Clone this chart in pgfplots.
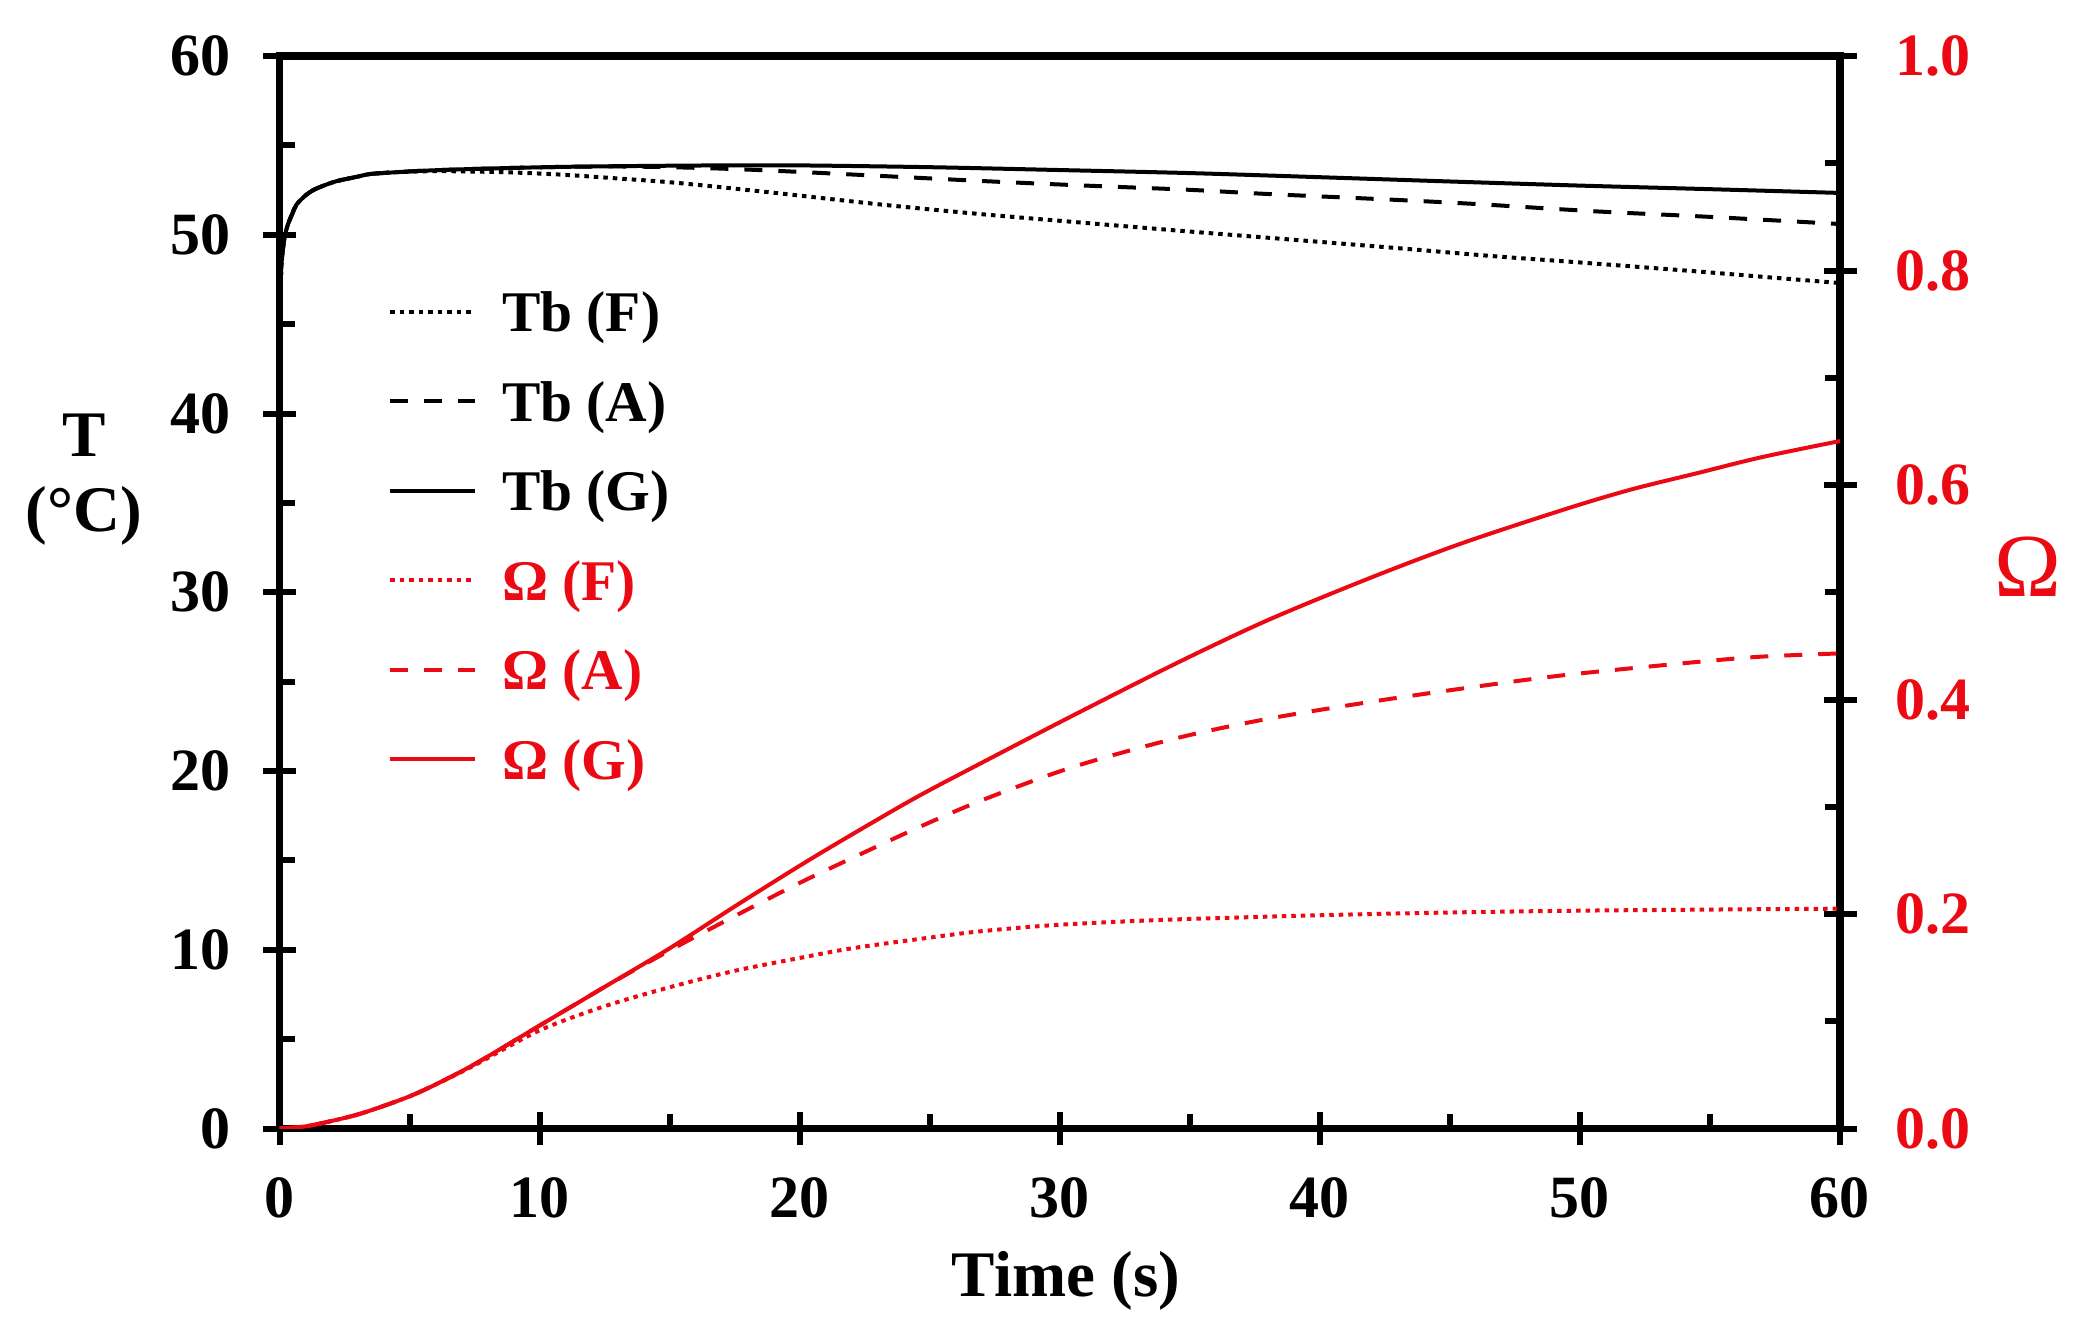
\documentclass[border=0pt]{standalone}
\usepackage{fontspec}
\setmainfont{Liberation Serif}
\usepackage{pgfplots}
\pgfplotsset{compat=1.18}
\definecolor{ored}{RGB}{235,10,20}
\tikzset{
  dotsty/.style={line width=0.8pt, dash pattern=on 0.9pt off 1.0pt},
  dashsty/.style={line width=0.8pt, dash pattern=on 3.6pt off 3.2pt},
  solsty/.style={line width=0.8pt},
}
\begin{document}
\begin{tikzpicture}
\useasboundingbox (-55.9pt,-39.9pt) rectangle (360.9pt,225.7pt);
\pgfplotsset{
  every axis/.append style={
    scale only axis, width=312.1pt, height=214.5pt, xmin=0, xmax=60,
    axis line style={line width=1.5pt, line cap=rect},
    tick style={line width=1.2pt, black},
    tick align=center, major tick length=6.6pt,
    /pgf/number format/assume math mode=true,
    tick label style={font=\fontsize{12}{14}\selectfont\bfseries},
    no marks,
  },
}
\begin{axis}[
  ymin=0, ymax=60,
  axis x line*=bottom, axis y line*=left,
  xtick={0,10,...,60}, ytick={0,10,...,60},
  extra x ticks={5,15,25,35,45,55}, extra x tick labels={},
  extra y ticks={5,15,25,35,45,55}, extra y tick labels={},
  extra tick style={tick align=inside, major tick length=3pt},
  xticklabel style={yshift=-2.9pt},
  yticklabel style={xshift=-3pt},
  xlabel={Time (s)},
  xlabel style={at={(axis description cs:0.504,-0.1566)}, anchor=base, font=\fontsize{13}{15}\selectfont\bfseries},
  ylabel={T\\(°C)},
  ylabel style={rotate=-90, align=center, at={(axis description cs:-0.1253,0.605)}, anchor=center, font=\fontsize{13}{15}\selectfont\bfseries},
]
% Tb (G)
\addplot[black, solsty, smooth] table {
0 45.0
0.05 47.5
0.1 48.8
0.2 49.9
0.33 50.6
0.5 51.2
0.66 51.7
1.0 52.2
1.3 52.5
1.7 52.75
2.2 53.0
3.0 53.25
3.5 53.4
4.5 53.5
5.5 53.58
7 53.66
9 53.74
11 53.8
14 53.85
17 53.88
20 53.88
25 53.78
30 53.62
35 53.45
40 53.22
45 52.98
50 52.75
55 52.55
60 52.34
};
% Tb (A)
\addplot[black, dashsty, smooth] table {
0 45.0
0.05 47.5
0.1 48.8
0.2 49.9
0.33 50.6
0.5 51.2
0.66 51.7
1.0 52.2
1.3 52.5
1.7 52.75
2.2 53.0
3.0 53.25
3.5 53.4
4.5 53.5
5.5 53.58
7 53.66
9 53.74
11 53.8
13 53.82
15 53.78
17 53.7
19.2 53.57
23 53.3
27.1 53.0
31 52.75
34.9 52.52
38 52.28
42.8 51.96
46 51.72
50.6 51.31
55 51.0
60 50.6
};
% Tb (F)
\addplot[black, dotsty, smooth] table {
0 45.0
0.05 47.5
0.1 48.8
0.2 49.9
0.33 50.6
0.5 51.2
0.66 51.7
1.0 52.2
1.3 52.5
1.7 52.75
2.2 53.0
3.0 53.25
3.5 53.4
4.5 53.5
6 53.56
8 53.52
9.4 53.46
11 53.35
13 53.15
15.3 52.9
19 52.35
23.2 51.68
27 51.15
31 50.66
35 50.18
38.9 49.73
43 49.25
46.7 48.8
50 48.45
54.5 47.95
57 47.65
60 47.3
};
\end{axis}
\begin{axis}[
  ymin=0, ymax=1,
  axis x line*=top, axis y line*=right,
  xtick=\empty,
  ytick={0,0.2,0.4,0.6,0.8,1.0},
  yticklabel={\pgfmathprintnumber[fixed,fixed zerofill,precision=1]{\tick}},
  yticklabel style={xshift=4.3pt, text=ored},
  extra y ticks={0.1,0.3,0.5,0.7,0.9}, extra y tick labels={},
  extra tick style={tick align=inside, major tick length=3pt},
  ylabel={Ω},
  ylabel style={rotate=-90, at={(axis description cs:1.1202,0.5235)}, anchor=center, font=\fontsize{18}{20}\selectfont, text=ored},
  legend style={draw=none, fill=none, at={(axis description cs:0.0696,0.780)}, anchor=north west,
    inner sep=0pt, outer sep=0pt, row sep=9.9pt, column sep=5pt,
    nodes={inner sep=0pt, text height=8pt, text depth=0pt},
    font=\fontsize{11.5}{13}\selectfont\bfseries},
  legend cell align=left,
  legend image code/.code={\draw[#1] (0pt,0pt) -- (17pt,0pt);},
]
\addlegendimage{black, dotsty}
\addlegendentry{Tb (F)}
\addlegendimage{black, dashsty}
\addlegendentry{Tb (A)}
\addlegendimage{black, solsty}
\addlegendentry{Tb (G)}
% Omega (F)
\addplot[ored, dotsty, smooth] table {
0 0
1 0.002
2 0.007
3 0.013
4 0.021
5 0.030
6 0.041
7.5 0.059
10 0.0915
12.5 0.114
15 0.1317
17.5 0.147
20 0.159
22 0.168
25 0.178
27 0.184
30 0.190
34.5 0.195
42 0.200
49.5 0.203
60 0.205
};
\addlegendentry{\textcolor{ored}{Ω (F)}}
% Omega (A)
\addplot[ored, dashsty, smooth] table {
0 0
1 0.002
2 0.007
3 0.013
4 0.021
5 0.030
6 0.041
7.5 0.060
10 0.096
12.5 0.132
15 0.166
17.5 0.198
20 0.229
22 0.252
24.5 0.280
27 0.306
30.5 0.337
34.5 0.364
38 0.382
42 0.398
46 0.412
49.5 0.423
54.5 0.435
57 0.440
60 0.443
};
\addlegendentry{\textcolor{ored}{Ω (A)}}
% Omega (G)
\addplot[ored, solsty, smooth] table {
0 0
1 0.002
2 0.007
3 0.013
4 0.021
5 0.030
6 0.041
7.5 0.060
10 0.096
12.5 0.132
15 0.168
17.5 0.207
20 0.245
22 0.274
24.5 0.309
27 0.341
30.5 0.385
34.5 0.434
38 0.474
42 0.514
45.5 0.546
49.5 0.578
52 0.596
54.5 0.611
57 0.626
60 0.641
};
\addlegendentry{\textcolor{ored}{Ω (G)}}
\end{axis}
\end{tikzpicture}
\end{document}
